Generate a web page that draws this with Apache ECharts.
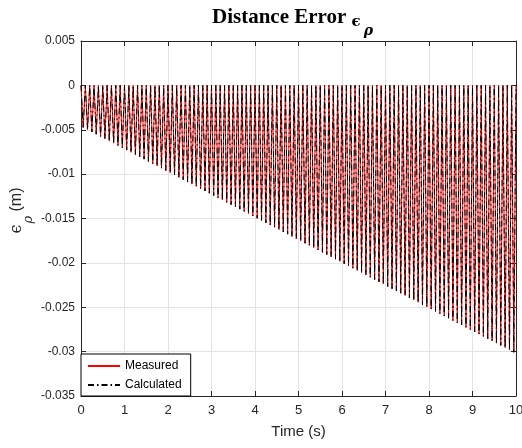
<!DOCTYPE html>
<html>
<head>
<meta charset="utf-8">
<script src="https://cdn.jsdelivr.net/npm/echarts@6/dist/echarts.min.js"></script>
<style>html,body{margin:0;padding:0;background:#fff}#c{width:522px;height:448px}</style>
</head>
<body>
<div id="c"></div>
<script>
// Times (s) where the error returns to zero
const peakTime = [0,0.1,0.2,0.3,0.4,0.5,0.6,0.7,0.8,0.9,1,1.1,1.2,1.3,1.4,1.5,1.6,1.7,1.8,1.9,2,2.1,2.2,2.3,2.4,2.5,2.6,2.7,2.8,2.9,3,3.1,3.2,3.3,3.4,3.5,3.6,3.7,3.8,3.9,4,4.1,4.2,4.3,4.4,4.5,4.6,4.7,4.8,4.9,5,5.1,5.2,5.3,5.4,5.5,5.6,5.7,5.8,5.9,6,6.1,6.2,6.3,6.4,6.5,6.6,6.7,6.8,6.9,7,7.1,7.2,7.3,7.4,7.5,7.6,7.7,7.8,7.9,8,8.1,8.2,8.3,8.4,8.5,8.6,8.7,8.8,8.9,9,9.1,9.2,9.3,9.4,9.5,9.6,9.7,9.8,9.9,10];
const peakLevel = 0;
// Times (s) of each oscillation minimum
const troughTime = [0.05,0.15,0.25,0.35,0.45,0.55,0.65,0.75,0.85,0.95,1.05,1.15,1.25,1.35,1.45,1.55,1.65,1.75,1.85,1.95,2.05,2.15,2.25,2.35,2.45,2.55,2.65,2.75,2.85,2.95,3.05,3.15,3.25,3.35,3.45,3.55,3.65,3.75,3.85,3.95,4.05,4.15,4.25,4.35,4.45,4.55,4.65,4.75,4.85,4.95,5.05,5.15,5.25,5.35,5.45,5.55,5.65,5.75,5.85,5.95,6.05,6.15,6.25,6.35,6.45,6.55,6.65,6.75,6.85,6.95,7.05,7.15,7.25,7.35,7.45,7.55,7.65,7.75,7.85,7.95,8.05,8.15,8.25,8.35,8.45,8.55,8.65,8.75,8.85,8.95,9.05,9.15,9.25,9.35,9.45,9.55,9.65,9.75,9.85,9.95];
// Minimum error value (m) for each oscillation, read from the lower envelope
const measuredTrough = [-0.00473,-0.00498,-0.00524,-0.00550,-0.00575,-0.00601,-0.00626,-0.00652,-0.00678,-0.00703,-0.00729,-0.00754,-0.00780,-0.00806,-0.00831,-0.00857,-0.00882,-0.00908,-0.00934,-0.00959,-0.00985,-0.01010,-0.01036,-0.01062,-0.01087,-0.01113,-0.01138,-0.01164,-0.01190,-0.01215,-0.01241,-0.01266,-0.01292,-0.01318,-0.01343,-0.01369,-0.01394,-0.01420,-0.01446,-0.01471,-0.01497,-0.01522,-0.01548,-0.01574,-0.01599,-0.01625,-0.01650,-0.01676,-0.01702,-0.01727,-0.01753,-0.01778,-0.01804,-0.01830,-0.01855,-0.01881,-0.01906,-0.01932,-0.01958,-0.01983,-0.02009,-0.02034,-0.02060,-0.02086,-0.02111,-0.02137,-0.02162,-0.02188,-0.02214,-0.02239,-0.02265,-0.02290,-0.02316,-0.02342,-0.02367,-0.02393,-0.02418,-0.02444,-0.02470,-0.02495,-0.02521,-0.02546,-0.02572,-0.02598,-0.02623,-0.02649,-0.02674,-0.02700,-0.02726,-0.02751,-0.02777,-0.02802,-0.02828,-0.02854,-0.02879,-0.02905,-0.02930,-0.02956,-0.02982,-0.03007];
const calculatedTrough = measuredTrough.slice();
const xTicks = {min: 0, max: 10, interval: 1};
const yTicks = {min: -0.035, max: 0.005, interval: 0.005};

function buildSeries(troughs) {
  const pts = [];
  for (let i = 0; i < troughs.length; i++) {
    pts.push([peakTime[i], peakLevel]);
    pts.push([troughTime[i], troughs[i]]);
  }
  pts.push([peakTime[troughs.length], peakLevel]);
  return pts;
}

const chart = echarts.init(document.getElementById('c'), null, {renderer: 'canvas'});
const axisCol = '#262626';
const gridCol = '#e3e3e3';
const fmt = v => String(+v.toFixed(3));
const hidden = {color: 'rgba(0,0,0,0)', borderColor: 'rgba(0,0,0,0)', borderWidth: 0, opacity: 0};
chart.setOption({
  animation: false,
  backgroundColor: '#fff',
  title: {
    text: '{t|Distance Error }{e|ϵ}{s|ρ}',
    left: 212, top: 7, padding: 0,
    textStyle: {
      fontFamily: 'Liberation Serif', fontWeight: 'bold', fontSize: 21, color: '#000',
      rich: {
        t: {fontFamily: 'Liberation Serif', fontSize: 21, fontWeight: 'bold', color: '#000', lineHeight: 26, verticalAlign: 'top'},
        e: {fontFamily: 'DejaVu Serif', fontSize: 15, fontWeight: 'bold', color: '#000', lineHeight: 15, padding: [8, 2, 0, 0], verticalAlign: 'top'},
        s: {fontFamily: 'DejaVu Serif', fontSize: 14, fontStyle: 'italic', fontWeight: 'bold', color: '#000', lineHeight: 10, padding: [17, 0, 0, 1], verticalAlign: 'top'}
      }
    }
  },
  legend: {
    left: 81, bottom: 52, orient: 'vertical',
    backgroundColor: '#fff', borderColor: '#000', borderWidth: 1, borderRadius: 0,
    padding: [6, 9, 5, 6], itemGap: 7, itemWidth: 32, itemHeight: 10,
    itemStyle: hidden,
    textStyle: {fontFamily: 'Liberation Sans', fontSize: 12, color: '#000'},
    data: ['Measured', 'Calculated']
  },
  grid: {left: 81, right: 6, top: 41, bottom: 52, show: false, containLabel: false, outerBoundsMode: 'none'},
  xAxis: [{
    type: 'value', min: xTicks.min, max: xTicks.max, interval: xTicks.interval,
    name: 'Time (s)', nameLocation: 'middle', nameGap: 28, nameMoveOverlap: false,
    nameTextStyle: {fontFamily: 'Liberation Sans', fontSize: 15, color: axisCol},
    axisLine: {show: true, onZero: false, lineStyle: {color: axisCol, width: 1}},
    axisTick: {show: true, inside: true, length: 5, lineStyle: {color: axisCol}},
    axisLabel: {fontFamily: 'Liberation Sans', fontSize: 13, color: axisCol, margin: 8},
    splitLine: {show: true, lineStyle: {color: gridCol, width: 1}}
  }, {
    type: 'value', position: 'top', min: xTicks.min, max: xTicks.max, interval: xTicks.interval,
    axisLine: {show: true, onZero: false, lineStyle: {color: axisCol, width: 1}},
    axisTick: {show: true, inside: true, length: 5, lineStyle: {color: axisCol}},
    axisLabel: {show: false}, splitLine: {show: false}
  }],
  yAxis: [{
    type: 'value', min: yTicks.min, max: yTicks.max, interval: yTicks.interval,
    name: '{e|ϵ}{s|ρ}{m| (m)}', nameLocation: 'middle', nameGap: 52, nameRotate: 90, nameMoveOverlap: false,
    nameTextStyle: {
      fontFamily: 'Liberation Sans', fontSize: 16, color: axisCol, padding: [0, 0, 0, 16],
      rich: {
        e: {fontFamily: 'DejaVu Serif', fontSize: 16, color: axisCol, lineHeight: 20, verticalAlign: 'top'},
        s: {fontFamily: 'DejaVu Serif', fontSize: 13, fontStyle: 'italic', color: axisCol, lineHeight: 10, padding: [13, 0, 0, 1], verticalAlign: 'top'},
        m: {fontFamily: 'Liberation Sans', fontSize: 16, color: axisCol, lineHeight: 20, verticalAlign: 'top'}
      }
    },
    axisLine: {show: true, onZero: false, lineStyle: {color: axisCol, width: 1}},
    axisTick: {show: true, inside: true, length: 5, lineStyle: {color: axisCol}},
    axisLabel: {fontFamily: 'Liberation Sans', fontSize: 12, color: axisCol, margin: 6, formatter: fmt},
    splitLine: {show: true, lineStyle: {color: gridCol, width: 1}}
  }, {
    type: 'value', position: 'right', min: yTicks.min, max: yTicks.max, interval: yTicks.interval,
    axisLine: {show: true, onZero: false, lineStyle: {color: axisCol, width: 1}},
    axisTick: {show: true, inside: true, length: 5, lineStyle: {color: axisCol}},
    axisLabel: {show: false}, splitLine: {show: false}
  }],
  series: [{
    name: 'Measured', type: 'line', xAxisIndex: 0, yAxisIndex: 0,
    data: buildSeries(measuredTrough), showSymbol: false, symbol: 'none', sampling: null,
    color: '#ff0000',
    lineStyle: {color: '#ff0000', width: 1}
  }, {
    name: 'Calculated', type: 'line', xAxisIndex: 0, yAxisIndex: 0,
    data: buildSeries(calculatedTrough), showSymbol: false, symbol: 'none', sampling: null,
    color: '#000000',
    lineStyle: {color: '#000000', width: 1, type: [6, 3, 1.5, 3]}
  }]
});
</script>
</body>
</html>
